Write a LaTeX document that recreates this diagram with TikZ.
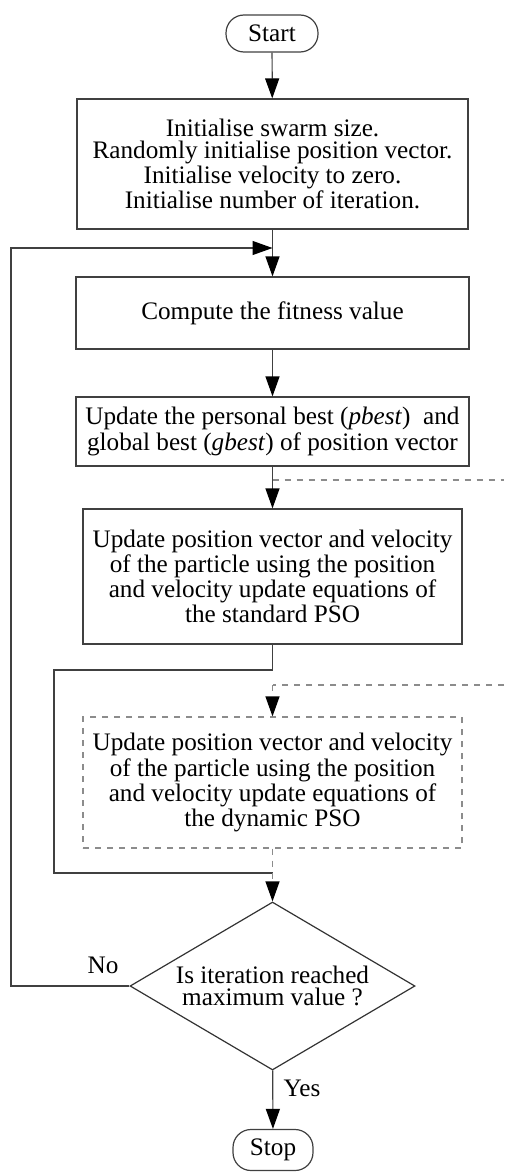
\documentclass[tikz,border=0pt]{standalone}
\usepackage{fontspec}
\setmainfont{Liberation Serif}
\usetikzlibrary{shapes.geometric, arrows.meta}
\tikzset{box/.style = {draw = black!75, line width = 0.6pt, align = center, inner sep = 0},
  dashbox/.style = {box, draw = black!45, dashed},
  term/.style = {draw = black!75, line width = 0.6pt, rounded corners = 9pt, inner sep = 0, minimum height = 18.5pt},
  decision/.style = {draw = black!80, line width = 0.6pt, diamond, aspect = 1.7, align = center, inner sep = 0, minimum width = 142.5pt, minimum height = 84pt},
  line/.style = {draw = black!75, line width = 0.6pt},
  dashline/.style = {draw = black!45, line width = 0.6pt, dashed},
  arr/.style = {line, -{Triangle[length = 10pt, width = 7pt, color = black]}},
  darr/.style = {dashline, -{Triangle[length = 10pt, width = 7pt, color = black]}}}

\begin{document}
\begin{tikzpicture}[x = 0.5pt, y = -0.5pt, font = \fontsize{12.6}{11.3}\selectfont]
    \useasboundingbox (0, 0) rectangle (504, 1172);

    \node [term, minimum width = 46pt] (start) at (272, 33.5) {Start};
    \node [box, minimum width = 195.5pt, minimum height = 65pt] (init) at (272.5, 164)
    {Initialise swarm size.\\ Randomly initialise position vector.\\ Initialise velocity to zero.\\ Initialise number of iteration.};
    \node [box, minimum width = 196.5pt, minimum height = 36pt] (fit) at (272.5, 313) {Compute the fitness value};
    \node [box, minimum width = 196.5pt, minimum height = 34.5pt] (best) at (272.5, 431.5)
    {Update the personal best (\textit{pbest})\ \ and\\ global best (\textit{gbest}) of position vector};
    \node [box, minimum width = 189.5pt, minimum height = 67.5pt] (spso) at (272.5, 576.5)
    {Update position vector and velocity\\ of the particle using the position\\ and velocity update equations of\\ the standard PSO};
    \node [dashbox, minimum width = 189.5pt, minimum height = 65.5pt] (dpso) at (272.5, 782.5)
    {Update position vector and velocity\\ of the particle using the position\\ and velocity update equations of\\ the dynamic PSO};
    \node [decision] (check) at (272.5, 986) {Is iteration reached\\ maximum value ?};
    \node [term, minimum width = 40pt, minimum height = 20.5pt] (stop) at (273, 1150) {Stop};

    \node (no) at (103, 965) {No};
    \node (yes) at (302, 1088) {Yes};

    \coordinate (join) at (272.5, 248);
    \coordinate (split) at (272.5, 480);
    \coordinate (splitend) at (504, 480);
    \coordinate (fork) at (272.5, 685);
    \coordinate (forkend) at (504, 685);
    \coordinate (merge) at (272.5, 873);

    \draw [arr] (start) -- (init);
    \draw [line] (init) -- (join);
    \draw [arr] (join) -- (fit);
    \draw [arr] (fit) -- (best);
    \draw [arr] (best) -- (spso);
    \draw [dashline] (split) -- (splitend);
    \draw [line] (spso) -- (272.5, 670) -- (54, 670) -- (54, 873) -- (merge);
    \draw [dashline] (forkend) -- (fork);
    \draw [darr] (fork) -- (dpso);
    \draw [darr] (dpso) -- (check);
    \draw [arr] (check.west) -- (11, 986) -- (11, 248) -- (join);
    \draw [arr] (check) -- (stop);
  \end{tikzpicture}
\end{document}
